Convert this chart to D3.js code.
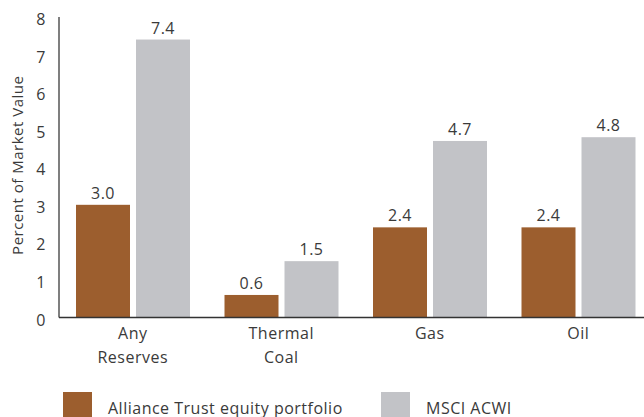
<!DOCTYPE html>
<html>
<head>
<meta charset="utf-8">
<script src="https://cdn.jsdelivr.net/npm/d3@7"></script>
<style>
  body { margin: 0; background: #fff; }
  svg { display: block; font-family: "Open Sans", "Inter", sans-serif; letter-spacing: 0.5px; }
</style>
</head>
<body>
<svg id="chart" width="644" height="417"></svg>
<script>
const categories = [["Any", "Reserves"], ["Thermal", "Coal"], ["Gas"], ["Oil"]];
const seriesNames = ["Alliance Trust equity portfolio", "MSCI ACWI"];
const allianceValues = [3.0, 0.6, 2.4, 2.4];
const acwiValues = [7.4, 1.5, 4.7, 4.8];
const yTicks = [0, 1, 2, 3, 4, 5, 6, 7, 8];
const colors = ["#9c5e2e", "#c2c3c7"];

const svg = d3.select("#chart");
const margin = { top: 17, left: 59, bottom: 99 };
const plotRight = 653;
const height = 417;

const x0 = d3.scaleBand()
  .domain(d3.range(categories.length))
  .range([margin.left, plotRight])
  .paddingInner(0)
  .paddingOuter(0);

const x1 = d3.scaleBand()
  .domain([0, 1])
  .range([17, 131])
  .paddingInner(0.1);

const y = d3.scaleLinear()
  .domain([0, 8])
  .range([height - margin.bottom - 0.5, margin.top]);

// y axis labels
svg.append("g")
  .selectAll("text")
  .data(yTicks)
  .enter()
  .append("text")
  .attr("x", 46)
  .attr("y", d => y(d) + 8)
  .attr("text-anchor", "end")
  .attr("font-size", 16)
  .attr("fill", "#3a3a3a")
  .text(d => d);

svg.append("text")
  .attr("transform", "rotate(-90)")
  .attr("x", -(y(4)) + 2)
  .attr("y", 23)
  .attr("text-anchor", "middle")
  .attr("font-size", 15)
  .attr("fill", "#3a3a3a")
  .text("Percent of Market Value");

const data = categories.map((c, i) => [allianceValues[i], acwiValues[i]]);

const groups = svg.append("g")
  .selectAll("g")
  .data(data)
  .enter()
  .append("g")
  .attr("transform", (d, i) => `translate(${x0(i)},0)`);

groups.selectAll("rect")
  .data(d => d)
  .enter()
  .append("rect")
  .attr("x", (d, j) => x1(j))
  .attr("y", d => y(d))
  .attr("width", x1.bandwidth())
  .attr("height", d => y(0) - y(d))
  .attr("fill", (d, j) => colors[j]);

groups.selectAll("text.val")
  .data(d => d)
  .enter()
  .append("text")
  .attr("class", "val")
  .attr("x", (d, j) => x1(j) + x1.bandwidth() / 2)
  .attr("y", d => y(d) - 6)
  .attr("text-anchor", "middle")
  .attr("font-size", 16)
  .attr("fill", "#3a3a3a")
  .text(d => d.toFixed(1));

// axes lines
svg.append("line")
  .attr("x1", margin.left).attr("x2", margin.left)
  .attr("y1", margin.top).attr("y2", y(0))
  .attr("stroke", "#555").attr("stroke-width", 1.5);

svg.append("line")
  .attr("x1", margin.left).attr("x2", 644)
  .attr("y1", y(0)).attr("y2", y(0))
  .attr("stroke", "#333").attr("stroke-width", 1.5);

// category labels
svg.append("g")
  .selectAll("text")
  .data(categories)
  .enter()
  .append("text")
  .attr("x", (d, i) => x0(i) + x0.bandwidth() / 2 - 0.5)
  .attr("y", 339)
  .attr("text-anchor", "middle")
  .attr("font-size", 16)
  .attr("fill", "#3a3a3a")
  .each(function (d) {
    const t = d3.select(this);
    d.forEach((line, k) => {
      t.append("tspan")
        .attr("x", t.attr("x"))
        .attr("dy", k === 0 ? 0 : 24)
        .text(line);
    });
  });

// legend
const legendX = [63, 381];
const legend = svg.append("g")
  .selectAll("g")
  .data(seriesNames)
  .enter()
  .append("g")
  .attr("transform", (d, i) => `translate(${legendX[i]},392)`);

legend.append("rect")
  .attr("width", 29)
  .attr("height", 26)
  .attr("fill", (d, i) => colors[i]);

legend.append("text")
  .attr("x", 45)
  .attr("y", 22)
  .attr("font-size", 16)
  .attr("fill", "#3a3a3a")
  .text(d => d);
</script>
</body>
</html>
